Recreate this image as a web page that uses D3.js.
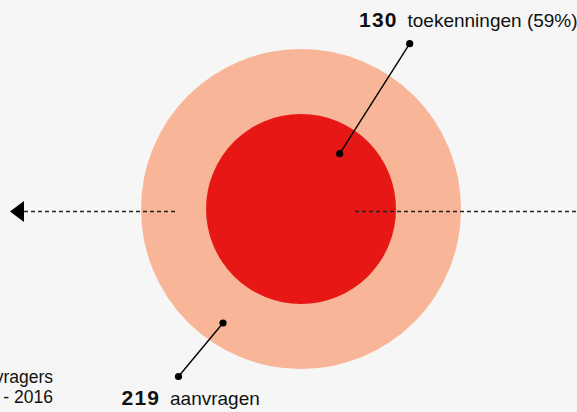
<!DOCTYPE html>
<html><head><meta charset="utf-8">
<script src="https://cdn.jsdelivr.net/npm/d3@7"></script>
<style>html,body{margin:0;padding:0;background:#f6f6f6;overflow:hidden}svg{display:block}</style>
</head><body>
<script>
const categories = ["aanvragen", "toekenningen"];
const values = [219, 130];
const colors = ["#f8b597", "#e61715"];
const sideLabel = ["aanvragers", "2015 - 2016"];

const W = 577, H = 412;
const cx = 301, cy = 209;
const svg = d3.select("body").append("svg").attr("width", W).attr("height", H);
svg.append("rect").attr("width", W).attr("height", H).attr("fill", "#f6f6f6");

const r = d3.scaleLinear().domain([0, 219]).range([0, 160]);

svg.selectAll("circle.bub").data(values).join("circle")
  .attr("class", "bub").attr("cx", cx).attr("cy", cy)
  .attr("r", d => r(d)).attr("fill", (d, i) => colors[i]);

// dashed lines
const dash = "4,3";
svg.append("line").attr("x1", 24).attr("x2", 178).attr("y1", 211.5).attr("y2", 211.5)
  .attr("stroke", "#222").attr("stroke-width", 1.3).attr("stroke-dasharray", dash);
svg.append("line").attr("x1", 355).attr("x2", 577).attr("y1", 211.5).attr("y2", 211.5)
  .attr("stroke", "#222").attr("stroke-width", 1.3).attr("stroke-dasharray", dash);
svg.append("path").attr("d", "M10,211.5 L24,201 L24,222 Z").attr("fill", "#000");

// leaders
const leaders = [
  {x1: 339.7, y1: 153.7, x2: 409.7, y2: 43.7},
  {x1: 223, y1: 323, x2: 178.5, y2: 376.5}
];
leaders.forEach(l => {
  svg.append("line").attr("x1", l.x1).attr("y1", l.y1).attr("x2", l.x2).attr("y2", l.y2)
    .attr("stroke", "#000").attr("stroke-width", 1.4);
  [[l.x1, l.y1], [l.x2, l.y2]].forEach(p => svg.append("circle").attr("cx", p[0]).attr("cy", p[1]).attr("r", 3.6).attr("fill", "#000"));
});

const font = "'Liberation Sans', Arial, sans-serif";
const t1 = svg.append("text").attr("y", 26.7).attr("font-family", font).attr("fill", "#111");
t1.append("tspan").attr("x", 359).attr("font-size", 21).attr("font-weight", "bold").attr("letter-spacing", 1.2).text(values[1]);
t1.append("tspan").attr("x", 407.5).attr("font-size", 19).attr("letter-spacing", 0).text(categories[1] + " (59%)");

const t2 = svg.append("text").attr("y", 405).attr("font-family", font).attr("fill", "#111");
t2.append("tspan").attr("x", 121.5).attr("font-size", 21).attr("font-weight", "bold").attr("letter-spacing", 1.2).text(values[0]);
t2.append("tspan").attr("x", 170).attr("font-size", 19).attr("letter-spacing", 0).text(categories[0]);

svg.selectAll("text.side").data(sideLabel).join("text").attr("class", "side")
  .attr("x", 53).attr("y", (d, i) => 382.5 + i * 20.5).attr("text-anchor", "end")
  .attr("font-family", font).attr("font-size", 17.5).attr("fill", "#111").text(d => d);
</script>
</body></html>
